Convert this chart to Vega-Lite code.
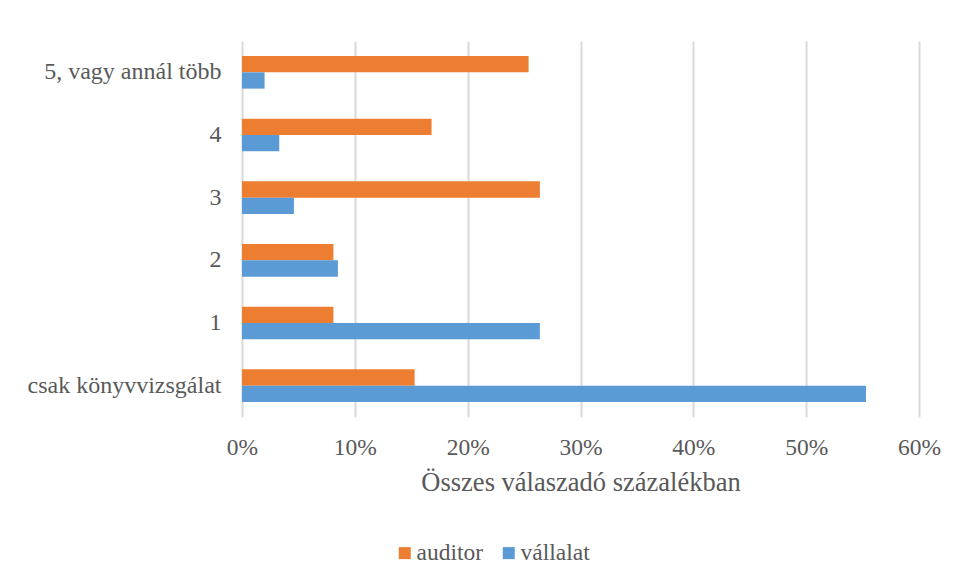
{
  "$schema": "https://vega.github.io/schema/vega-lite/v6.json",
  "width": 677,
  "height": 376,
  "autosize": "none",
  "padding": {"left": 242, "top": 41, "right": 39, "bottom": 163},
  "background": "white",
  "config": {
    "view": {"stroke": null},
    "font": "Liberation Serif",
    "text": {"font": "Liberation Serif"}
  },
  "data": {
    "values": [
      {"kategoria": "5, vagy annál több", "csoport": "auditor", "ertek": 0.254},
      {"kategoria": "5, vagy annál több", "csoport": "vállalat", "ertek": 0.020},
      {"kategoria": "4", "csoport": "auditor", "ertek": 0.168},
      {"kategoria": "4", "csoport": "vállalat", "ertek": 0.033},
      {"kategoria": "3", "csoport": "auditor", "ertek": 0.264},
      {"kategoria": "3", "csoport": "vállalat", "ertek": 0.046},
      {"kategoria": "2", "csoport": "auditor", "ertek": 0.081},
      {"kategoria": "2", "csoport": "vállalat", "ertek": 0.085},
      {"kategoria": "1", "csoport": "auditor", "ertek": 0.081},
      {"kategoria": "1", "csoport": "vállalat", "ertek": 0.264},
      {"kategoria": "csak könyvvizsgálat", "csoport": "auditor", "ertek": 0.153},
      {"kategoria": "csak könyvvizsgálat", "csoport": "vállalat", "ertek": 0.553}
    ]
  },
  "mark": {"type": "bar"},
  "encoding": {
    "y": {
      "field": "kategoria",
      "type": "nominal",
      "sort": ["5, vagy annál több", "4", "3", "2", "1", "csak könyvvizsgálat"],
      "scale": {"paddingInner": 0.48, "paddingOuter": 0.24},
      "axis": {
        "title": null,
        "domain": false,
        "ticks": false,
        "labelFont": "Liberation Serif",
        "labelFontSize": 24,
        "labelColor": "#595959",
        "labelPadding": 21,
        "labelLimit": 0,
        "labelBaseline": "middle"
      }
    },
    "yOffset": {
      "field": "csoport",
      "type": "nominal",
      "sort": ["auditor", "vállalat"]
    },
    "x": {
      "field": "ertek",
      "type": "quantitative",
      "scale": {"domain": [0, 0.6], "nice": false},
      "axis": {
        "format": ".0%",
        "values": [0, 0.1, 0.2, 0.3, 0.4, 0.5, 0.6],
        "title": "Összes válaszadó százalékban",
        "titleFont": "Liberation Serif",
        "titleFontSize": 26.5,
        "titleFontWeight": "normal",
        "titleColor": "#595959",
        "titlePadding": 11,
        "domain": false,
        "ticks": false,
        "grid": true,
        "gridColor": "#D9D9D9",
        "gridWidth": 2,
        "labelFont": "Liberation Serif",
        "labelFontSize": 23.5,
        "labelColor": "#595959",
        "labelPadding": 18,
        "labelFlush": false
      }
    },
    "color": {
      "field": "csoport",
      "type": "nominal",
      "scale": {"domain": ["auditor", "vállalat"], "range": ["#ED7D31", "#5B9BD5"]},
      "legend": {
        "title": null,
        "orient": "none",
        "direction": "horizontal",
        "legendX": 151,
        "legendY": 500,
        "symbolType": "square",
        "symbolSize": 144,
        "symbolStrokeWidth": 0,
        "labelFont": "Liberation Serif",
        "labelFontSize": 23.5,
        "labelColor": "#595959",
        "labelOffset": 0,
        "columnPadding": 13,
        "padding": 0
      }
    }
  }
}
